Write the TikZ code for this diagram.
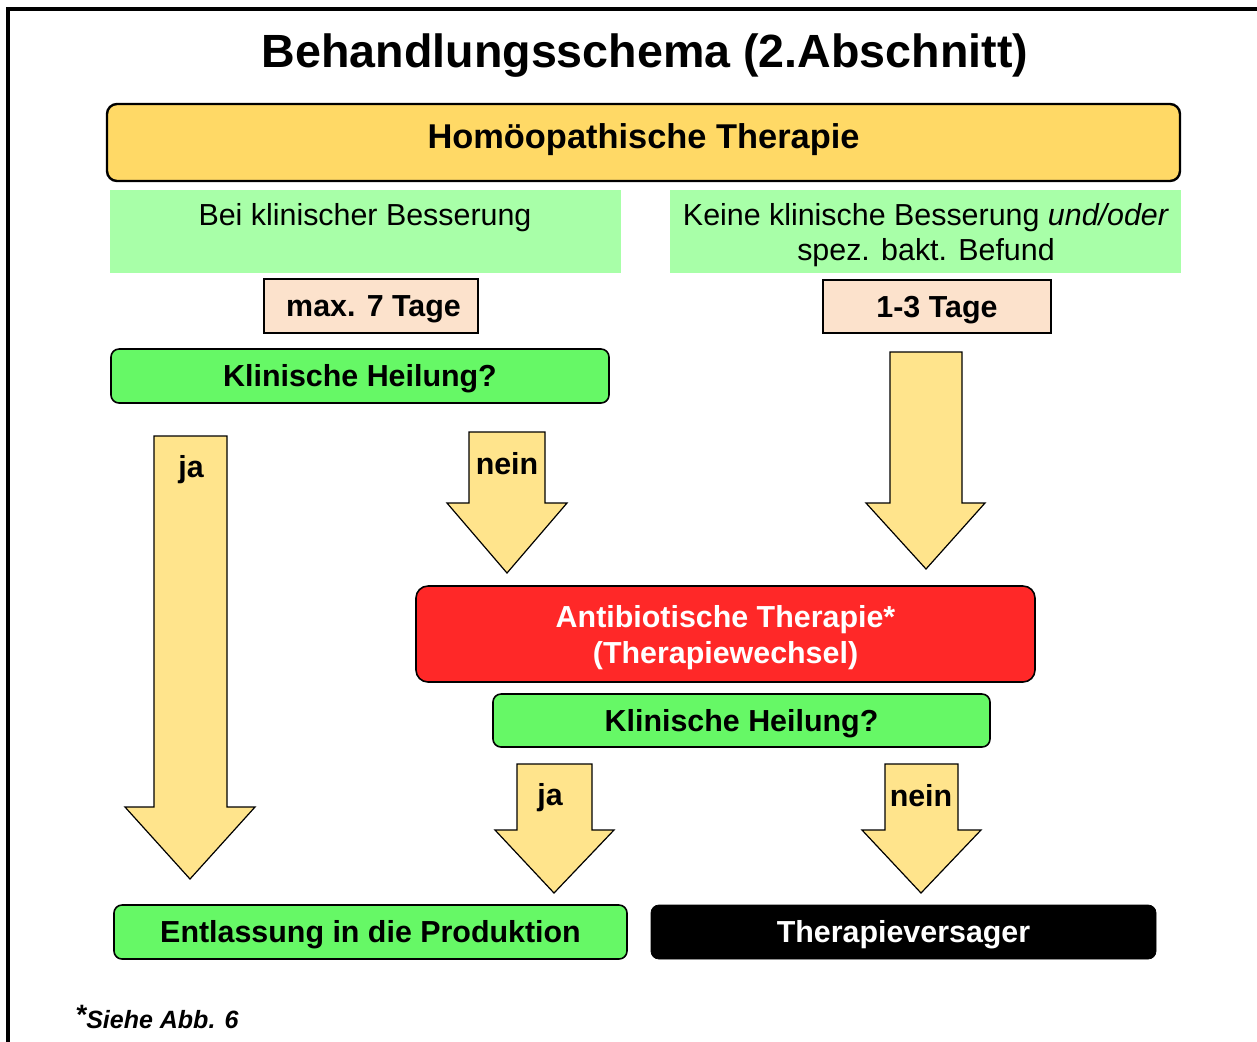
\documentclass[tikz,border=0pt]{standalone}
\usepackage{fontspec}
\setmainfont{Liberation Sans}
\definecolor{topyel}{HTML}{FFD966}
\definecolor{arryel}{HTML}{FFE48C}
\definecolor{lgreen}{HTML}{A8FFA8}
\definecolor{mgreen}{HTML}{66F866}
\definecolor{peach}{HTML}{FCE2CC}
\definecolor{redbox}{HTML}{FF2828}
\tikzset{
  capc/.style={text height=10.9pt, text depth=0pt},
  topbox/.style={draw=black, line width=1.2pt, fill=topyel, rounded corners=5pt, font=\bfseries\fontsize{17.2}{20}\selectfont, text height=12.3pt, text depth=6.5pt},
  condbox/.style={fill=lgreen, draw=none},
  condtext/.style={font=\fontsize{15.2}{17.5}\selectfont, align=center, inner sep=0pt, text depth=0pt},
  daybox/.style={draw=black, line width=0.6pt, fill=peach, font=\bfseries\fontsize{15.2}{18}\selectfont, capc},
  qbox/.style={draw=black, line width=0.8pt, fill=mgreen, rounded corners=4pt, font=\bfseries\fontsize{15.2}{18}\selectfont, capc},
  redstyle/.style={draw=black, line width=0.8pt, fill=redbox, rounded corners=6pt, text=white, align=center, font=\bfseries\fontsize{15.2}{18}\selectfont, text depth=0pt},
  blackbox/.style={draw=black, fill=black, rounded corners=4pt, text=white, font=\bfseries\fontsize{15.2}{18}\selectfont, capc},
  blockarrow/.style={draw=black, line width=0.6pt, fill=arryel, line join=miter},
  arrlabel/.style={font=\bfseries\fontsize{15.2}{18}\selectfont, inner sep=0pt, capc},
}
\begin{document}
\begin{tikzpicture}[x=0.5pt,y=-0.5pt]
\useasboundingbox (0,0) rectangle (1257,1041);
% frame
\draw[line width=2pt] (8,9) rectangle (1300,1100);
% title
\node[font=\bfseries\fontsize{23.3}{28}\selectfont, text height=16.7pt, text depth=0pt] (title) at (645,51) {Behandlungsschema (2.Abschnitt)};
% top box
\node[topbox, minimum width=1073*0.5pt, minimum height=77*0.5pt] (homoeo) at (643.5,142.5) {Homöopathische Therapie};
% condition boxes
\node[condbox, minimum width=511*0.5pt, minimum height=83*0.5pt] (condL) at (365.5,231.5) {};
\node[condtext, text height=10.9pt] (condLtext) at (365,215) {Bei klinischer Besserung};
\node[condbox, minimum width=511*0.5pt, minimum height=83*0.5pt] (condR) at (925.5,231.5) {};
\node[condtext] (condRtext) at (926,232) {Keine klinische Besserung \textit{und/oder}\\spez. bakt. Befund};
% day boxes
\node[daybox, minimum width=214*0.5pt, minimum height=54*0.5pt] (days7) at (371,306) {\,max. 7 Tage};
\node[daybox, minimum width=228*0.5pt, minimum height=53*0.5pt] (days13) at (937,306.5) {1-3 Tage};
% question 1
\node[qbox, minimum width=498*0.5pt, minimum height=54*0.5pt] (q1) at (360,376) {Klinische Heilung?};
% arrows
\draw[blockarrow] (154,436) -- (227,436) -- (227,807) -- (255,807) -- (190,879) -- (125,807) -- (154,807) -- cycle;
\draw[blockarrow] (469,432) -- (545,432) -- (545,503) -- (567,503) -- (507,573) -- (447,503) -- (469,503) -- cycle;
\draw[blockarrow] (890,352) -- (962,352) -- (962,503) -- (985,503) -- (926,569) -- (866,503) -- (890,503) -- cycle;
\draw[blockarrow] (517,764) -- (592,764) -- (592,830) -- (614,830) -- (554,893) -- (495,830) -- (517,830) -- cycle;
\draw[blockarrow] (885,764) -- (958,764) -- (958,830) -- (981,830) -- (921,893) -- (862,830) -- (885,830) -- cycle;
\node[arrlabel] (ja1) at (191,467) {ja};
\node[arrlabel] (nein1) at (507,464) {nein};
\node[arrlabel] (ja2) at (550,795) {ja};
\node[arrlabel] (nein2) at (921,796) {nein};
% red box
\node[redstyle, minimum width=619*0.5pt, minimum height=96*0.5pt] (antib) at (725.5,634) {Antibiotische Therapie*\\(Therapiewechsel)};
% question 2
\node[qbox, minimum width=497*0.5pt, minimum height=53*0.5pt] (q2) at (741.5,720.5) {Klinische Heilung?};
% outcomes
\node[qbox, minimum width=513*0.5pt, minimum height=54*0.5pt] (entl) at (370.5,932) {Entlassung in die Produktion};
\node[blackbox, minimum width=505*0.5pt, minimum height=54*0.5pt] (versager) at (903.5,932) {Therapieversager};
% footnote
\node[anchor=west, inner sep=0pt, font=\bfseries\itshape\fontsize{12.5}{15}\selectfont] (foot) at (75,1017) {\raisebox{0.35ex}{\fontsize{14}{15}\selectfont *}Siehe Abb. 6};
\end{tikzpicture}
\end{document}
